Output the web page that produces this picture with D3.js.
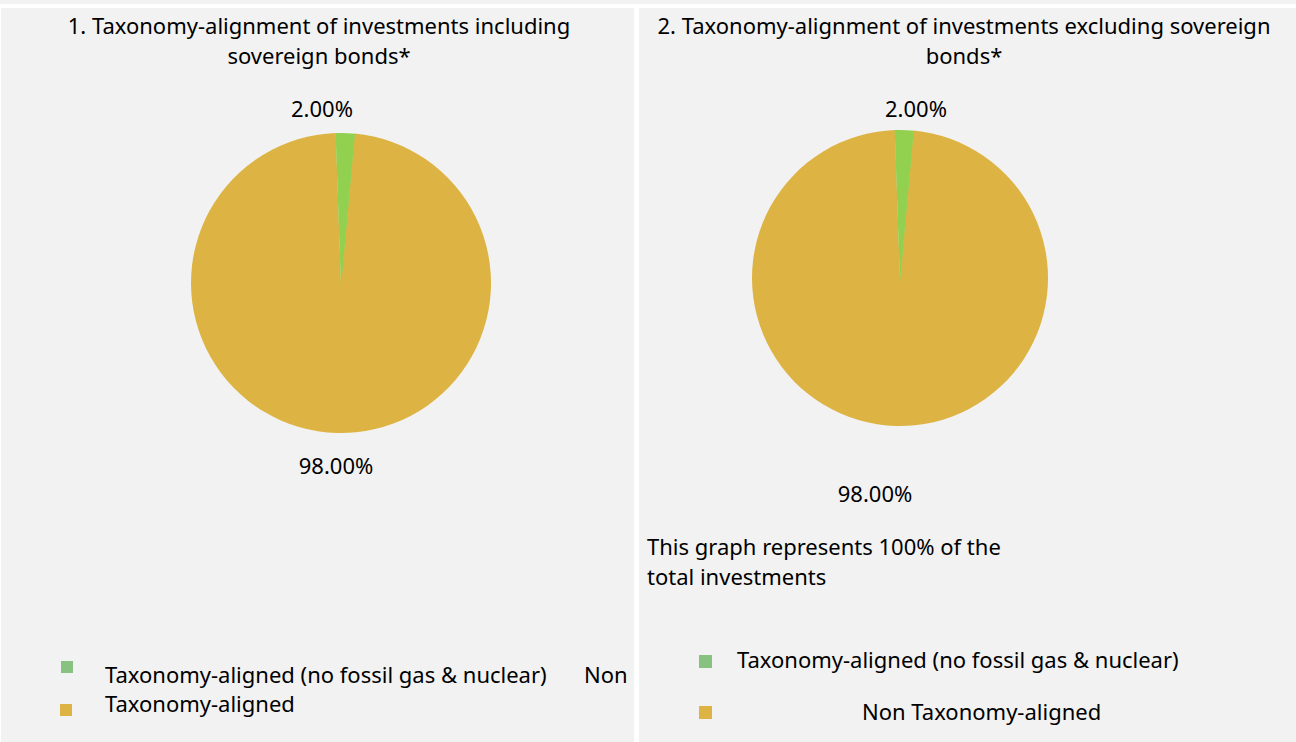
<!DOCTYPE html>
<html>
<head>
<meta charset="utf-8">
<script src="https://cdn.jsdelivr.net/npm/d3@7"></script>
<style>
  body { margin: 0; background: #fff; }
  svg { display: block; font-family: "Noto Sans", "Open Sans", sans-serif; }
</style>
</head>
<body>
<svg id="chart" width="1296" height="742"></svg>
<script>
const categories = ["Taxonomy-aligned (no fossil gas & nuclear)", "Non Taxonomy-aligned"];
const valuesIncl = [2.0, 98.0];
const valuesExcl = [2.0, 98.0];
const sliceLabels = ["2.00%", "98.00%"];

const PIE_COLORS = ["#92d050", "#ddb443"];
const LEGEND_COLORS = ["#88c280", "#ddb443"];
const BG = "#f2f2f2";
const FS = 22;

const svg = d3.select("#chart");

// panels
svg.append("rect").attr("x", 0).attr("y", 0).attr("width", 1296).attr("height", 4).attr("fill", BG);
svg.append("rect").attr("x", 1).attr("y", 8).attr("width", 633).attr("height", 734).attr("fill", BG);
svg.append("rect").attr("x", 639).attr("y", 8).attr("width", 657).attr("height", 734).attr("fill", BG);

function title(lines, cx) {
  const t = svg.append("text").attr("text-anchor", "middle").attr("font-size", FS).attr("fill", "#000");
  lines.forEach((l, i) => t.append("tspan").attr("x", cx).attr("y", 34 + i * 30).text(l));
}
title(["1. Taxonomy-alignment of investments including", "sovereign bonds*"], 319);
title(["2. Taxonomy-alignment of investments excluding sovereign", "bonds*"], 964);

const pie = d3.pie().sort(null).startAngle(-0.035).endAngle(2 * Math.PI - 0.035);

function drawPie(values, cx, cy, r, labelPos) {
  const g = svg.append("g").attr("transform", `translate(${cx},${cy})`);
  const arcs = pie(values);
  // big slice first, small slice on top (pulled down a bit so its tip sits below centre)
  [1, 0].forEach((i) => {
    const arc = d3.arc().innerRadius(0).outerRadius(i === 0 ? r + 5 : r);
    g.append("path")
      .attr("d", arc(arcs[i]))
      .attr("transform", i === 0 ? "translate(0,5)" : null)
      .attr("fill", PIE_COLORS[i]);
  });
  labelPos.forEach((p, i) => {
    svg.append("text")
      .attr("x", p[0]).attr("y", p[1])
      .attr("text-anchor", "middle")
      .attr("font-size", FS)
      .text(sliceLabels[i]);
  });
}

drawPie(valuesIncl, 341, 283, 150, [[322, 117], [336, 474]]);
drawPie(valuesExcl, 900, 278, 148, [[916, 117], [875, 502]]);

// note
const note = svg.append("text").attr("font-size", FS);
note.append("tspan").attr("x", 647).attr("y", 555).text("This graph represents 100% of the");
note.append("tspan").attr("x", 647).attr("y", 585).text("total investments");

// left legend
svg.append("rect").attr("x", 61).attr("y", 661).attr("width", 12).attr("height", 12).attr("fill", LEGEND_COLORS[0]);
svg.append("text").attr("x", 105).attr("y", 683).attr("font-size", FS).text(categories[0]);
svg.append("text").attr("x", 584).attr("y", 683).attr("font-size", FS).text(categories[1].split(" ")[0]);
svg.append("rect").attr("x", 60).attr("y", 704).attr("width", 12).attr("height", 12).attr("fill", LEGEND_COLORS[1]);
svg.append("text").attr("x", 105).attr("y", 712).attr("font-size", FS).text(categories[1].split(" ").slice(1).join(" "));

// right legend
svg.append("rect").attr("x", 699).attr("y", 655).attr("width", 13).attr("height", 13).attr("fill", LEGEND_COLORS[0]);
svg.append("text").attr("x", 737).attr("y", 668).attr("font-size", FS).text(categories[0]);
svg.append("rect").attr("x", 699).attr("y", 706).attr("width", 13).attr("height", 13).attr("fill", LEGEND_COLORS[1]);
svg.append("text").attr("x", 862).attr("y", 720).attr("font-size", FS).text(categories[1]);
</script>
</body>
</html>
